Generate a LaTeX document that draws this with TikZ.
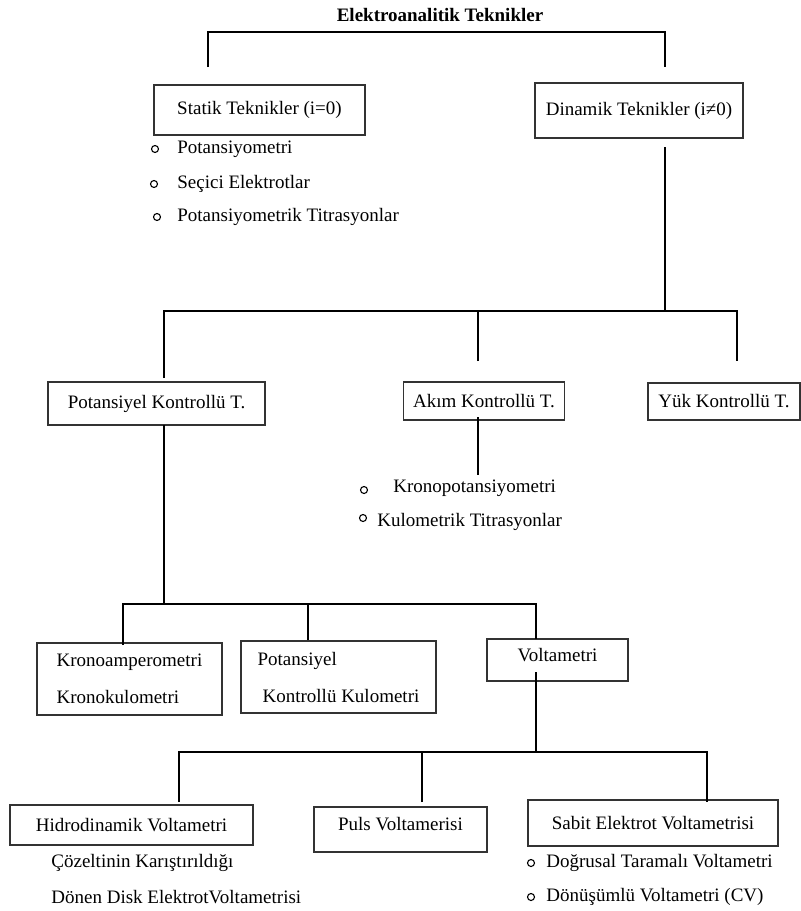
\documentclass[tikz,border=0pt]{standalone}
\usepackage{fontspec}
\setmainfont{Liberation Serif}
\tikzset{
  box/.style={draw=black!80, line width=0.7pt, inner sep=0pt, align=center},
  conn/.style={draw=black, line width=1.25pt},
  dot/.style={shape=circle, draw=black, line width=0.55pt, minimum size=3.5pt, inner sep=0pt},
  item/.style={anchor=west, inner sep=0pt}
}
\begin{document}
\begin{tikzpicture}[x=0.5pt, y=-0.5pt, font=\fontsize{9.5}{11.4}\selectfont]
\useasboundingbox (0,0) rectangle (801,911);
\node[inner sep=0pt] (title) at (440,15) {\textbf{Elektroanalitik Teknikler}};
% first level
\node[box, minimum width=105.5pt, minimum height=25pt] (stat) at (259.5,110) {Statik Teknikler (i=0)};
\node[box, minimum width=104pt, minimum height=27.5pt] (dina) at (639,110.5) {Dinamik Teknikler (i≠0)};
\node[dot] (s1) at (155,149) {};
\node[dot] (s2) at (154,184) {};
\node[dot] (s3) at (157,217) {};
\node[item] (st1) at (177,149) {Potansiyometri};
\node[item] (st2) at (177,184) {Seçici Elektrotlar};
\node[item] (st3) at (177,217) {Potansiyometrik Titrasyonlar};
% second level
\node[box, minimum width=108.5pt, minimum height=21.5pt] (pot) at (156.5,403.5) {Potansiyel Kontrollü T.};
\node[box, minimum width=80.5pt, minimum height=19pt] (akim) at (484,401) {Akım Kontrollü T.};
\node[box, minimum width=76pt, minimum height=18.5pt] (yuk) at (724,401.5) {Yük Kontrollü T.};
\node[dot] (a1) at (364,490) {};
\node[dot] (a2) at (363,518) {};
\node[item] (at1) at (393,488) {Kronopotansiyometri};
\node[item] (at2) at (377,522) {Kulometrik Titrasyonlar};
% third level
\node[box, align=left, minimum width=92.5pt, minimum height=36pt, font=\fontsize{9.5}{18.5}\selectfont] (krono) at (129.5,679) {Kronoamperometri\\Kronokulometri};
\node[box, align=left, minimum width=97.5pt, minimum height=36pt, font=\fontsize{9.5}{18.5}\selectfont] (potk) at (338.5,677) {Potansiyel\\\hspace*{2.5pt}Kontrollü Kulometri};
\node[box, minimum width=70.5pt, minimum height=21pt, text depth=5pt] (volt) at (557.5,660) {Voltametri};
% fourth level
\node[box, minimum width=121.5pt, minimum height=20pt] (hidro) at (131.5,825) {Hidrodinamik Voltametri};
\node[box, minimum width=86.5pt, minimum height=22.5pt, text depth=6pt] (puls) at (400.5,829.5) {Puls Voltamerisi};
\node[box, minimum width=125pt, minimum height=23pt] (sabit) at (653,823) {Sabit Elektrot Voltametrisi};
\node[item] (h1) at (51,863) {Çözeltinin Karıştırıldığı};
\node[item] (h2) at (51,897) {Dönen Disk ElektrotVoltametrisi};
\node[dot] (b1) at (531,863) {};
\node[dot] (b2) at (531,897) {};
\node[item] (bt1) at (546,863) {Doğrusal Taramalı Voltametri};
\node[item] (bt2) at (546,897) {Dönüşümlü Voltametri (CV)};
% connector ends
\coordinate (tl) at (208,67);
\coordinate (tt) at (436,32);
\coordinate (tr) at (665,67);
\coordinate (d0) at (665,147);
\coordinate (dj) at (665,311);
\coordinate (pk0) at (164,378);
\coordinate (ak0) at (478,361);
\coordinate (yk0) at (737,361);
\coordinate (ak1) at (478,417);
\coordinate (ak2) at (478,475);
\coordinate (pk1) at (164,425);
\coordinate (pj) at (164,604);
\coordinate (kr0) at (123,645);
\coordinate (pt0) at (308,640);
\coordinate (vo0) at (536,639);
\coordinate (vo1) at (536,672);
\coordinate (vj) at (536,752);
\coordinate (hi0) at (179,802);
\coordinate (pu0) at (422,802);
\coordinate (sa0) at (707,802);
% connectors
\draw[conn] (tl) |- (tt) -| (tr);
\draw[conn] (d0) -- (dj);
\draw[conn] (pk0) |- (dj) -| (yk0);
\draw[conn] (ak0) -- (ak0 |- dj);
\draw[conn] (ak1) -- (ak2);
\draw[conn] (pk1) -- (pj);
\draw[conn] (kr0) |- (pj) -| (vo0);
\draw[conn] (pt0) -- (pt0 |- pj);
\draw[conn] (vo1) -- (vj);
\draw[conn] (hi0) |- (vj) -| (sa0);
\draw[conn] (pu0) -- (pu0 |- vj);
\end{tikzpicture}
\end{document}
